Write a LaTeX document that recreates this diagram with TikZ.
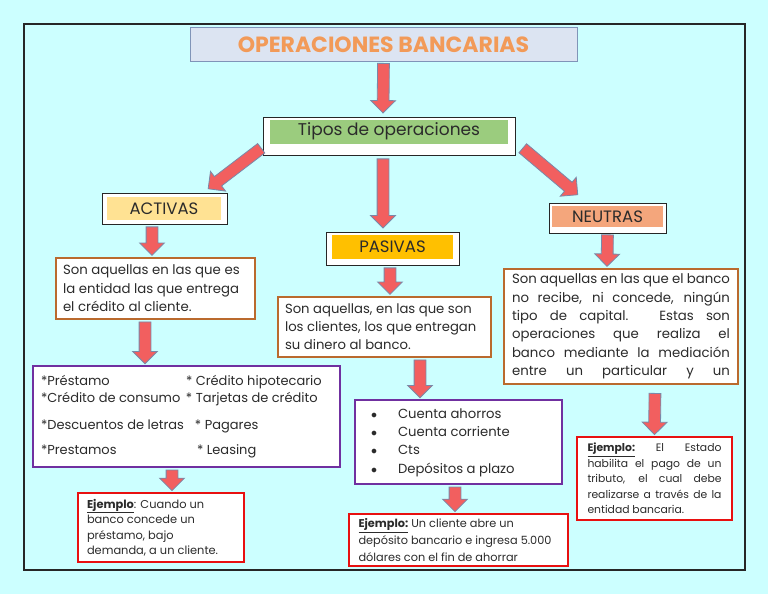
\documentclass[tikz,border=0pt]{standalone}
\usepackage{fontspec}
\setmainfont{Poppins}
\usepackage{xcolor}
\usetikzlibrary{calc,shapes.arrows}

\definecolor{fondo}{HTML}{CCFFFF}
\definecolor{titulo}{HTML}{DCE4F2}
\definecolor{tituloborde}{HTML}{8094B8}
\definecolor{naranja}{HTML}{F29A58}
\definecolor{verde}{HTML}{9BCC7E}
\definecolor{amarillo}{HTML}{FFE293}
\definecolor{oro}{HTML}{FFC000}
\definecolor{salmon}{HTML}{F4A67C}
\definecolor{marron}{HTML}{BA6A2E}
\definecolor{morado}{HTML}{7030A0}
\definecolor{rojo}{HTML}{E81010}
\definecolor{flecharelleno}{HTML}{F25F5F}
\definecolor{flechaborde}{HTML}{7A88A8}
\definecolor{texto}{HTML}{2B2B2B}

% fat block arrow between two points
\newcommand\flecha[2]{%
  \path let \p1=#1, \p2=#2,
    \n1={veclen(\x2-\x1,\y2-\y1)}, \n2={atan2(\y2-\y1,\x2-\x1)} in
    node[bigarrow, minimum height=\n1, rotate=\n2, anchor=tail] at (\p1) {};}

\begin{document}
\begin{tikzpicture}[x=1pt,y=-1pt,
  bigarrow/.style={single arrow, draw=flechaborde, fill=flecharelleno, line width=0.8pt,
    inner xsep=0pt, inner ysep=5.5pt, single arrow head extend=6.5pt},
  etiqueta/.style={draw=black!85, line width=0.9pt, fill=white, inner sep=0pt},
  rotulo/.style={inner sep=0pt, text=texto, font=\fontsize{16.5}{18}\selectfont},
  caja/.style={draw=marron, line width=2pt, fill=white, inner sep=0pt, text=texto,
    font=\fontsize{13.3}{18.4}\selectfont},
  lista/.style={draw=morado, line width=2.2pt, fill=white, inner sep=0pt, text=texto,
    font=\fontsize{13}{17}\selectfont},
  ejemplo/.style={draw=rojo, line width=2.6pt, fill=white, inner sep=0pt, text=texto,
    font=\fontsize{11.4}{15.5}\selectfont}]

 \fill[fondo] (0,0) rectangle (768,594);
 \useasboundingbox (0,0) rectangle (768,594);
 \draw[black!85, line width=2.5pt] (24,24) rectangle (745,570);

 % title and first level
 \node[draw=tituloborde, line width=1pt, fill=titulo, minimum width=387pt, minimum height=34pt,
   text=naranja, font=\fontsize{22}{24}\selectfont\bfseries] (title) at (383.5,45) {OPERACIONES BANCARIAS};
 \node[etiqueta, minimum width=252pt, minimum height=38pt] (tiposbox) at (389,136) {};
 \node[rotulo, fill=verde, minimum width=238pt, minimum height=24pt, font=\fontsize{17}{18}\selectfont] (tipos) at (389,131.5) {Tipos de operaciones};

 % types
 \node[etiqueta, minimum width=125pt, minimum height=31pt] (actbox) at (164.5,208.5) {};
 \node[rotulo, fill=amarillo, minimum width=114pt, minimum height=23pt] (act) at (164,208.5) {ACTIVAS};
 \node[etiqueta, minimum width=133pt, minimum height=33pt] (pasbox) at (392.5,248.5) {};
 \node[rotulo, fill=oro, minimum width=121pt, minimum height=24pt] (pas) at (392.5,247) {PASIVAS};
 \node[etiqueta, minimum width=117pt, minimum height=30pt] (neubox) at (607.5,218) {};
 \node[rotulo, fill=salmon, minimum width=111pt, minimum height=21pt] (neu) at (607.5,216.5) {NEUTRAS};

 % descriptions
 \node[caja, minimum width=199pt, minimum height=61pt] (adesc) at (155.5,288.5)
   {\parbox{185pt}{Son aquellas en las que es\\la entidad las que entrega\\el crédito al cliente.}};
 \node[caja, minimum width=213pt, minimum height=60pt, font=\fontsize{13.2}{18}\selectfont] (pdesc) at (384.5,327)
   {\parbox{199pt}{Son aquellas, en las que son\\los clientes, los que entregan\\su dinero al banco.}};
 \node[caja, minimum width=234pt, minimum height=115pt] (ndesc) at (621,326.5)
   {\parbox{218pt}{\parfillskip=0pt Son aquellas en las que el banco\linebreak no recibe, ni concede, ningún\linebreak
    tipo de capital. Estas son\linebreak operaciones que realiza el\linebreak
    banco mediante la mediación\linebreak entre un particular y un\par}};

 % lists
 \node[lista, minimum width=307pt, minimum height=101pt] (alist) at (186.5,416.5)
   {\parbox{291pt}{\begin{tabular}{@{}p{145pt}@{}l@{}}
     *Préstamo & * Crédito hipotecario\\
     {*}Crédito de consumo & * Tarjetas de crédito\\[10pt]
     {*}Descuentos de letras & \hspace{9pt}* Pagares\\[8pt]
     {*}Prestamos & \hspace{11pt}* Leasing
   \end{tabular}}};
 \node[lista, minimum width=207pt, minimum height=84pt, font=\fontsize{13.2}{18.3}\selectfont] (plist) at (458.5,442)
   {\parbox{175pt}{\begin{tabular}{@{}c@{\hspace{21pt}}l@{}}
     $\bullet$ & Cuenta ahorros\\
     $\bullet$ & Cuenta corriente\\
     $\bullet$ & Cts\\
     $\bullet$ & Depósitos a plazo
   \end{tabular}}};

 % examples
 \node[ejemplo, minimum width=166pt, minimum height=69pt] (aej) at (161,527.5)
   {\parbox{148pt}{\underline{\textbf{Ejemplo}}: Cuando un\\banco concede un\\préstamo, bajo\\demanda, a un cliente.}};
 \node[ejemplo, minimum width=219pt, minimum height=52pt, font=\fontsize{11.3}{17}\selectfont] (pej) at (458.5,540)
   {\parbox{200pt}{\underline{\textbf{Ejemplo:}} Un cliente abre un\\depósito bancario e ingresa 5.000\\dólares con el fin de ahorrar}};
 \node[ejemplo, minimum width=155pt, minimum height=83pt, font=\fontsize{10.8}{15.5}\selectfont] (nej) at (654.5,478.5)
   {\parbox{134pt}{\underline{\textbf{Ejemplo:}} El Estado\linebreak habilita el pago de un\linebreak
    tributo, el cual debe\linebreak realizarse a través de la\linebreak entidad bancaria.}};

 % arrows
 \flecha{([yshift=-0.5pt]title.south)}{([xshift=-6pt,yshift=4pt]tiposbox.north)}
 \flecha{([xshift=-1pt,yshift=-12pt]tiposbox.west)}{([xshift=-19pt,yshift=4pt]actbox.north east)}
 \flecha{([xshift=7pt,yshift=-12pt]tiposbox.east)}{([xshift=-30pt,yshift=8pt]neubox.north)}
 \flecha{([xshift=-6pt,yshift=-3pt]tiposbox.south)}{([xshift=-9.5pt,yshift=4pt]pasbox.north)}
 \flecha{([xshift=-12.5pt,yshift=-2pt]actbox.south)}{([xshift=-3.5pt,yshift=2pt]adesc.north)}
 \flecha{([xshift=-2.5pt,yshift=-2pt]pasbox.south)}{([xshift=5.5pt,yshift=2pt]pdesc.north)}
 \flecha{([yshift=-1pt]neubox.south)}{([xshift=-14pt,yshift=2pt]ndesc.north)}
 \flecha{([xshift=-10.5pt,yshift=-1.5pt]adesc.south)}{([xshift=-41.5pt,yshift=1.5pt]alist.north)}
 \flecha{([xshift=35.5pt,yshift=-1.5pt]pdesc.south)}{([xshift=-38.5pt,yshift=1.5pt]plist.north)}
 \flecha{([xshift=34pt,yshift=-8pt]ndesc.south)}{([yshift=1.5pt]nej.north)}
 \flecha{([xshift=-14.5pt,yshift=-1.5pt]alist.south)}{([xshift=11pt,yshift=1.5pt]aej.north)}
 \flecha{([xshift=-3.5pt,yshift=-1.5pt]plist.south)}{([xshift=-3.5pt,yshift=1.5pt]pej.north)}
\end{tikzpicture}
\end{document}
